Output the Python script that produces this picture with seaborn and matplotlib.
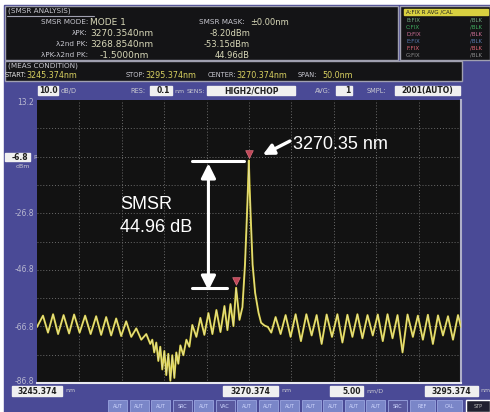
import numpy as np
import pandas as pd
import matplotlib
matplotlib.use("Agg")
import matplotlib.pyplot as plt
from matplotlib.patches import Rectangle
import seaborn as sns

# ---------------- data ----------------
wavelength_nm = [
    3245.374, 3246.08, 3246.67, 3247.27, 3247.86, 3248.51, 3249.16, 3249.75, 3250.40,
    3251.05, 3251.70, 3252.35, 3252.94, 3253.53, 3254.12, 3254.71, 3255.30, 3255.89,
    3256.49, 3257.08, 3257.67, 3258.26, 3258.73, 3258.97, 3259.20, 3259.44, 3259.68,
    3259.91, 3260.15, 3260.39, 3260.62, 3260.86, 3261.10, 3261.33, 3261.57, 3261.80,
    3262.04, 3262.28, 3262.63, 3262.99, 3263.34, 3263.69, 3264.17, 3264.64, 3265.11,
    3265.59, 3266.06, 3266.53, 3267.01, 3267.48, 3267.83, 3268.19, 3268.54, 3268.854,
    3269.25, 3269.60, 3269.90, 3270.10, 3270.25, 3270.354, 3270.45, 3270.60, 3270.80,
    3271.10, 3271.50, 3271.80, 3272.20, 3272.60, 3273.00, 3273.51, 3274.10, 3274.69,
    3275.28, 3275.87, 3276.50, 3277.14, 3277.76, 3278.35, 3278.94, 3279.53, 3280.16,
    3280.80, 3281.39, 3281.98, 3282.57, 3283.16, 3283.75, 3284.35, 3284.97, 3285.56,
    3286.15, 3286.71, 3287.30, 3287.89, 3288.48, 3289.07, 3289.70, 3290.29, 3290.88,
    3291.47, 3292.06, 3292.66, 3293.25, 3293.84, 3294.43, 3295.02, 3295.374,
]
power_dbm = [
    -67.0, -63.0, -69.0, -62.5, -69.5, -62.8, -69.3, -62.6, -69.0,
    -63.0, -69.5, -63.2, -69.8, -63.5, -70.0, -64.0, -70.2, -65.0,
    -70.5, -67.5, -71.5, -69.5, -73.0, -71.5, -76.0, -72.5, -79.0,
    -74.0, -82.0, -75.5, -84.0, -76.5, -86.0, -77.0, -85.0, -76.0,
    -80.0, -73.5, -77.0, -71.5, -74.0, -66.3, -70.5, -63.8, -69.8,
    -62.1, -69.5, -61.0, -68.8, -59.6, -68.1, -58.9, -66.7, -53.15,
    -64.5, -60.0, -45.0, -30.0, -18.0, -8.20, -18.0, -30.0, -45.0,
    -55.0, -62.0, -65.5, -66.5, -67.0, -69.0, -63.5, -69.5, -62.8,
    -70.5, -62.5, -72.0, -62.5, -70.0, -62.8, -73.0, -62.6, -70.5,
    -62.5, -72.5, -62.7, -70.5, -62.5, -71.0, -62.8, -70.0, -62.6,
    -72.0, -62.5, -71.0, -62.8, -76.0, -62.6, -70.5, -63.0, -71.5,
    -62.7, -73.0, -62.9, -70.0, -63.2, -71.5, -62.8, -67.0,
]
peak_wl = [3270.354, 3268.854]
peak_dbm = [-8.20, -53.15]
smsr_db = 44.96

x_start, x_stop = 3245.374, 3295.374
y_top, y_bottom = 13.2, -86.8
x_ticks = [x_start + 5 * k for k in range(11)]
y_ticks = [y_top - 10 * k for k in range(11)]

# ---------------- figure ----------------
sns.set_theme(style="dark")
plt.rcParams["font.family"] = ["DejaVu Sans"]
W, H = 490, 412
fig = plt.figure(figsize=(W / 100, H / 100), dpi=100)
fig.patch.set_facecolor("white")

bg = fig.add_axes([0, 0, 1, 1])
bg.set_xlim(0, W)
bg.set_ylim(H, 0)
bg.axis("off")

PURPLE = "#4a4a96"
DARK = "#141416"
BORDER = "#a0a0b0"
TXT = "#c8c8d0"
VAL = "#d8d8b8"

bg.add_patch(Rectangle((4, 5), W - 4, H - 5, color=PURPLE, zorder=0))
# header
bg.add_patch(Rectangle((5, 6), 393, 54, facecolor=DARK, edgecolor=BORDER, lw=1, zorder=1))
bg.add_patch(Rectangle((400, 6), 90, 54, facecolor=DARK, edgecolor=BORDER, lw=1, zorder=1))
bg.add_patch(Rectangle((5, 61), 457, 20, facecolor=DARK, edgecolor=BORDER, lw=1, zorder=1))

fs = 5.2
def t(x, y, s, c=TXT, ha="left", size=fs, **kw):
    bg.text(x, y, s, color=c, ha=ha, va="center", fontsize=size, zorder=3, **kw)

t(8, 11, "(SMSR ANALYSIS)")
bg.plot([7, 94], [16, 16], color=BORDER, lw=0.8, zorder=2)
t(88, 22, "SMSR MODE:", ha="right")
t(90, 22, "MODE 1", c=VAL, size=6.5)
t(245, 22, "SMSR MASK:", ha="right")
t(250, 22, "±0.00nm", c=VAL, size=6)
t(88, 33, "λPK:", ha="right")
t(90, 33, "3270.3540nm", c=VAL, size=6.5)
t(250, 33, "-8.20dBm", c=VAL, ha="right", size=6)
t(88, 44, "λ2nd PK:", ha="right")
t(90, 44, "3268.8540nm", c=VAL, size=6.5)
t(250, 44, "-53.15dBm", c=VAL, ha="right", size=6)
t(88, 55, "λPK-λ2nd PK:", ha="right")
t(100, 55, "-1.5000nm", c=VAL, size=6.5)
t(250, 55, "44.96dB", c=VAL, ha="right", size=6)

bg.add_patch(Rectangle((404, 9), 84, 6, color="#d8d040", zorder=2))
t(406, 12, "A:FIX R AVG /CAL", c="#202020", size=4)
trace_rows = ["B:FIX", "C:FIX", "D:FIX", "E:FIX", "F:FIX", "G:FIX"]
trace_cols = ["#70a880", "#40b060", "#d07098", "#5a7ab0", "#e06878", "#909090"]
for i, (lab, col) in enumerate(zip(trace_rows, trace_cols)):
    t(406, 20 + 7 * i, lab, c=col, size=4)
    t(470, 20 + 7 * i, "/BLK", c=col, size=4)

t(8, 66, "(MEAS CONDITION)")
t(5, 75, "START:", c="#e0e0e0", size=4.8)
t(26, 75, "3245.374nm", c="#d8d060", size=5.8)
t(126, 75, "STOP:", c=TXT, size=4.8)
t(145, 75, "3295.374nm", c="#d8d060", size=5.8)
t(208, 75, "CENTER:", c=TXT, size=4.8)
t(236, 75, "3270.374nm", c="#d8d060", size=5.8)
t(298, 75, "SPAN:", c=TXT, size=4.8)
t(322, 75, "50.0nm", c="#d8d060", size=5.8)

def box(x, y, w, h, s, ha="center", size=5.5):
    bg.add_patch(Rectangle((x, y), w, h, color="#f0f0f0", zorder=2))
    tx = x + w / 2 if ha == "center" else x + w - 2
    bg.text(tx, y + h / 2, s, color="#202020", ha=ha, va="center",
            fontsize=size, zorder=3, fontweight="bold")

box(38, 86, 20, 9, "10.0")
t(61, 91, "dB/D", size=4.8)
t(130, 91, "RES:", size=4.8)
box(150, 86, 22, 9, "0.1", ha="right")
t(174, 91, "nm", size=4.5)
t(187, 91, "SENS:", size=4.5)
box(207, 86, 88, 9, "HIGH2/CHOP")
t(315, 91, "AVG:", size=4.8)
box(336, 86, 16, 9, "1", ha="right")
t(367, 91, "SMPL:", size=4.8)
box(395, 86, 65, 9, "2001(AUTO)")

# left scale
ytxt = {13.2: 102, -26.8: 213, -46.8: 270, -66.8: 327, -86.8: 381}
for v, yy in ytxt.items():
    t(34, yy, f"{v:.1f}", ha="right", size=5.5, c="#b8b8d0")
box(5, 153, 25, 8, "-6.8", ha="right")
t(33, 157, "REF", size=4.5)
t(30, 166, "dBm", ha="right", size=4.5)

# bottom scale
box(12, 386, 50, 10, "3245.374")
t(65, 391, "nm", size=4.5)
box(223, 386, 55, 10, "3270.374")
t(281, 391, "nm", size=4.5)
box(330, 386, 33, 10, "5.00", ha="right")
t(366, 391, "nm/D", size=4.5)
box(425, 386, 53, 10, "3295.374")
t(480, 391, "nm", size=4.5)

btns = ["AUT", "AUT", "AUT", "SRC", "AUT", "VAC", "AUT", "AUT", "AUT", "AUT",
        "AUT", "AUT", "AUT", "SRC"]
bx = 108
for b in btns:
    dark = b in ("SRC", "VAC")
    bg.add_patch(Rectangle((bx, 400), 19, 12,
                           facecolor="#5a5aa0" if dark else "#7a86c8",
                           edgecolor="#9aa4e0", lw=0.6, zorder=2))
    bg.text(bx + 9.5, 406, b, color="#d0d8ff", ha="center", va="center",
            fontsize=3.5, zorder=3)
    bx += 21.5
for x0, lab in [(410, "REF"), (437, "CAL")]:
    bg.add_patch(Rectangle((x0, 400), 25, 12, facecolor="#7a86c8",
                           edgecolor="#9aa4e0", lw=0.6, zorder=2))
    bg.text(x0 + 12.5, 406, lab, color="#d0d8ff", ha="center", va="center",
            fontsize=3.5, zorder=3)
bg.add_patch(Rectangle((466, 400), 24, 12, facecolor="#202030", zorder=2))
bg.text(478, 406, "STP", color="#c0c0c0", ha="center", va="center", fontsize=3.5, zorder=3)

# ---------------- main screen ----------------
L, R, T, B = 37, 461, 100, 383
ax = fig.add_axes([L / W, 1 - B / H, (R - L) / W, (B - T) / H])
ax.set_facecolor("#121212")
for s in ax.spines.values():
    s.set_visible(False)
ax.spines["bottom"].set_visible(True)
ax.spines["bottom"].set_color("#e8e8f0")
ax.spines["bottom"].set_linewidth(1.5)
ax.spines["right"].set_visible(True)
ax.spines["right"].set_color("#b0b0c8")
ax.spines["right"].set_linewidth(1.5)

for xv in x_ticks[1:-1]:
    ax.axvline(xv, color="#6a6a6a", lw=0.7, ls=(0, (1, 2)), zorder=1)
for yv in y_ticks[1:-1]:
    ax.axhline(yv, color="#6a6a6a", lw=0.7, ls=(0, (1, 2)), zorder=1)

df = pd.DataFrame({"wl": wavelength_nm, "p": power_dbm})
sns.lineplot(data=df, x="wl", y="p", ax=ax, color="#d8cc30", lw=1.4,
             estimator=None, sort=False, zorder=3)
sns.lineplot(data=df, x="wl", y="p", ax=ax, color="#e8e8d0", lw=0.6, alpha=0.7,
             estimator=None, sort=False, zorder=4)
ax.scatter(peak_wl, [p + 2.3 for p in peak_dbm], marker="v", s=30,
           color="#c04858", edgecolor="#e07080", lw=0.5, zorder=5)

ax.set_xlim(x_start, x_stop)
ax.set_ylim(y_bottom, y_top)
ax.set_xticks([])
ax.set_yticks([])
ax.set_xlabel("")
ax.set_ylabel("")

# annotations
AF = ["Liberation Sans", "DejaVu Sans"]
ax.plot([3263.69, peak_wl[0] - 0.6], [peak_dbm[0]] * 2, color="white", lw=2.2, zorder=6)
ax.plot([3263.69, peak_wl[1] - 1.1], [peak_dbm[1]] * 2, color="white", lw=2.2, zorder=6)
ax.annotate("", xy=(3265.59, peak_dbm[1] - 1.0), xytext=(3265.59, peak_dbm[0] - 1.0),
            arrowprops=dict(arrowstyle="<|-|>", color="white", lw=2.2,
                            mutation_scale=22, shrinkA=0, shrinkB=0), zorder=6)
ax.annotate("", xy=(3272.0, -6.2), xytext=(3275.2, -1.3),
            arrowprops=dict(arrowstyle="-|>", color="white", lw=2.4,
                            mutation_scale=16, shrinkA=0, shrinkB=0), zorder=6)
ax.text(3275.6, -2.7, f"{peak_wl[0]:.2f} nm", color="white", fontsize=13,
        family=AF, ha="left", va="center", zorder=7)
ax.text(3255.2, -23.6, "SMSR", color="white", fontsize=13, family=AF,
        ha="left", va="center", zorder=7)
ax.text(3255.2, -32.0, f"{smsr_db:.2f} dB", color="white", fontsize=13, family=AF,
        ha="left", va="center", zorder=7)

fig.savefig("out.png", dpi=100, facecolor=fig.get_facecolor())
